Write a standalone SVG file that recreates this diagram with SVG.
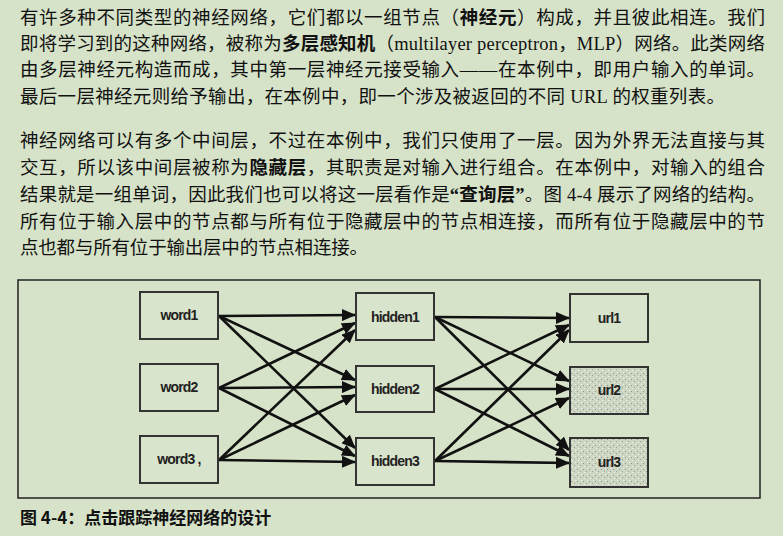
<svg xmlns="http://www.w3.org/2000/svg" width="783" height="536" viewBox="0 0 783 536">
<defs>
<style>
.t{font-family:"Liberation Serif","Noto Sans CJK SC",serif;font-size:18.5px;fill:#111}
.b{font-weight:bold}
.lbl{font-family:"Liberation Sans","DejaVu Sans",sans-serif;font-size:14px;font-weight:bold;fill:#222;text-anchor:middle;letter-spacing:-0.8px}
.box{fill:#d9e4cc;stroke:#333;stroke-width:2}
.box2{fill:url(#spk);stroke:#333;stroke-width:2}
.c line{stroke:#111;stroke-width:2.6;marker-end:url(#ah)}
</style>
<marker id="ah" markerUnits="userSpaceOnUse" markerWidth="14" markerHeight="12" refX="13" refY="6" orient="auto"><path d="M0,0 L14,6 L0,12 Z" fill="#111"/></marker>
<pattern id="spk" width="6" height="6" patternUnits="userSpaceOnUse"><rect width="6" height="6" fill="#cdd6c2"/><rect x="1" y="1" width="1" height="1" fill="#8f978a"/><rect x="4" y="3" width="1" height="1" fill="#9aa394"/><rect x="2" y="4" width="1" height="1" fill="#eef2e8"/><rect x="5" y="0" width="1" height="1" fill="#eef2e8"/></pattern>
</defs>
<rect width="783" height="536" fill="#d6e3c8"/>
<text class="t" x="20" y="24" textLength="745" lengthAdjust="spacing">有许多种不同类型的神经网络，它们都以一组节点（<tspan class="b">神经元</tspan>）构成，并且彼此相连。我们</text>
<text class="t" x="20" y="50" textLength="745" lengthAdjust="spacing">即将学习到的这种网络，被称为<tspan class="b">多层感知机</tspan>（multilayer perceptron，MLP）网络。此类网络</text>
<text class="t" x="20" y="76" textLength="745" lengthAdjust="spacing">由多层神经元构造而成，其中第一层神经元接受输入——在本例中，即用户输入的单词。</text>
<text class="t" x="20" y="103" textLength="705" lengthAdjust="spacing">最后一层神经元则给予输出，在本例中，即一个涉及被返回的不同 URL 的权重列表。</text>
<text class="t" x="20" y="147" textLength="745" lengthAdjust="spacing">神经网络可以有多个中间层，不过在本例中，我们只使用了一层。因为外界无法直接与其</text>
<text class="t" x="20" y="174" textLength="745" lengthAdjust="spacing">交互，所以该中间层被称为<tspan class="b">隐藏层</tspan>，其职责是对输入进行组合。在本例中，对输入的组合</text>
<text class="t" x="20" y="201" textLength="745" lengthAdjust="spacing">结果就是一组单词，因此我们也可以将这一层看作是<tspan class="b">“查询层”</tspan>。图 4-4 展示了网络的结构。</text>
<text class="t" x="20" y="228" textLength="745" lengthAdjust="spacing">所有位于输入层中的节点都与所有位于隐藏层中的节点相连接，而所有位于隐藏层中的节</text>
<text class="t" x="20" y="254" textLength="348" lengthAdjust="spacing">点也都与所有位于输出层中的节点相连接。</text>
<rect x="18" y="280" width="742" height="218" fill="none" stroke="#222" stroke-width="1.5"/>
<g class="c">
<line x1="219" y1="316" x2="355" y2="315"/><line x1="219" y1="316" x2="355" y2="380"/><line x1="219" y1="316" x2="355" y2="448"/>
<line x1="219" y1="388" x2="355" y2="323"/><line x1="219" y1="388" x2="355" y2="387"/><line x1="219" y1="388" x2="355" y2="456"/>
<line x1="219" y1="460" x2="355" y2="330"/><line x1="219" y1="460" x2="355" y2="395"/><line x1="219" y1="460" x2="355" y2="462"/>
<line x1="435" y1="317" x2="569" y2="318"/><line x1="435" y1="317" x2="569" y2="381"/><line x1="435" y1="317" x2="569" y2="450"/>
<line x1="435" y1="389" x2="569" y2="325"/><line x1="435" y1="389" x2="569" y2="389"/><line x1="435" y1="389" x2="569" y2="456"/>
<line x1="435" y1="461" x2="569" y2="330"/><line x1="435" y1="461" x2="569" y2="398"/><line x1="435" y1="461" x2="569" y2="463"/>
</g>
<g id="word1"><rect class="box" x="140" y="292" width="78" height="47"/><text class="lbl" x="179" y="320">word1</text></g>
<g id="word2"><rect class="box" x="140" y="364" width="78" height="47"/><text class="lbl" x="179" y="392">word2</text></g>
<g id="word3"><rect class="box" x="140" y="436" width="78" height="47"/><text class="lbl" x="179" y="464">word3 ,</text></g>
<g id="hidden1"><rect class="box" x="356" y="293" width="78" height="47"/><text class="lbl" x="395" y="322">hidden1</text></g>
<g id="hidden2"><rect class="box" x="356" y="366" width="78" height="46"/><text class="lbl" x="395" y="394">hidden2</text></g>
<g id="hidden3"><rect class="box" x="356" y="438" width="78" height="47"/><text class="lbl" x="395" y="466">hidden3</text></g>
<g id="url1"><rect class="box" x="570" y="294" width="78" height="48"/><text class="lbl" x="609" y="323">url1</text></g>
<g id="url2"><rect class="box2" x="570" y="367" width="78" height="47"/><text class="lbl" x="609" y="395">url2</text></g>
<g id="url3"><rect class="box2" x="570" y="438" width="78" height="49"/><text class="lbl" x="609" y="467">url3</text></g>
<text x="20" y="524" style="font-family:'Noto Sans CJK SC',sans-serif;font-size:17px;font-weight:bold;fill:#111">图 4-4：点击跟踪神经网络的设计</text>
</svg>
